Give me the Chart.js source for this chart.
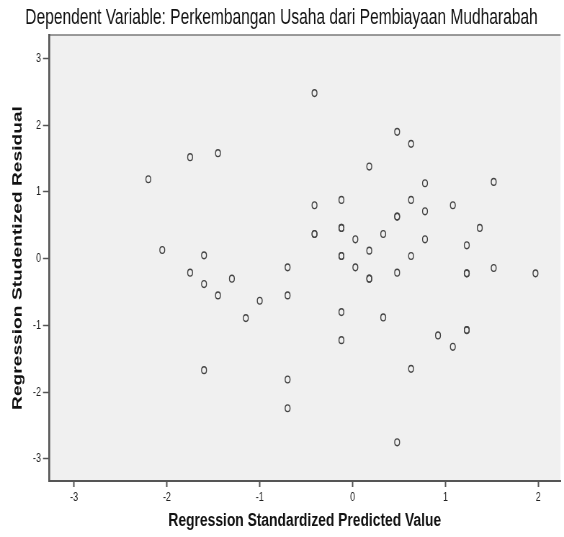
<!DOCTYPE html>
<html>
<head>
<meta charset="utf-8">
<script src="https://cdn.jsdelivr.net/npm/chart.js@4.4.1/dist/chart.umd.min.js"></script>
<style>
  html, body { margin: 0; padding: 0; background: #fff; overflow: hidden; }
  /* the reference image is squashed sideways, so draw wide and squeeze */
  #wrap { width: 783px; height: 537px; transform: scaleX(0.7203); transform-origin: 0 0; }
</style>
</head>
<body>
<div id="wrap"><canvas id="plot" width="783" height="537"></canvas></div>
<script>
// Regression Standardized Predicted Value (x) / Studentized Residual (y)
const predicted = [
  -2.20, -2.05, -1.75, -1.45, -1.60, -1.75, -1.60, -1.30, -1.45, -1.00,
  -1.15, -0.70, -0.70, -1.60, -0.70, -0.70, -0.41, -0.41, -0.41, -0.41,
  -0.12, -0.12, -0.12, -0.12, -0.12, 0.03, 0.03, 0.18, 0.18, 0.18,
  0.33, 0.18, 0.48, 0.63, 0.63, 0.48, 0.48, 0.63, 0.48, -0.12,
  -0.12, 0.33, 0.63, 0.48, 0.78, 0.78, 0.78, 1.52, 1.08, 1.37,
  1.23, 1.23, 1.23, 1.52, 1.97, 0.92, 1.08, 1.23, 1.23
];
const residual = [
  1.19, 0.13, 1.52, 1.58, 0.05, -0.21, -0.38, -0.30, -0.55, -0.63,
  -0.89, -0.13, -0.55, -1.67, -1.81, -2.24, 2.48, 0.80, 0.37, 0.37,
  0.88, 0.46, 0.46, 0.04, 0.04, 0.29, -0.13, 0.12, -0.30, -0.30,
  0.37, 1.38, 1.90, 1.72, 0.88, 0.63, 0.63, 0.04, -0.21, -0.80,
  -1.22, -0.88, -1.65, -2.75, 1.13, 0.71, 0.29, 1.15, 0.80, 0.46,
  0.20, -0.22, -0.22, -0.14, -0.22, -1.15, -1.32, -1.07, -1.07
];
const xTicks = [-3, -2, -1, 0, 1, 2];
const yTicks = [-3, -2, -1, 0, 1, 2, 3];

const FONT = "'Liberation Sans', Arial, sans-serif";

const points = predicted.map((x, i) => ({ x: x, y: residual[i] }));

// grey plot area with the top frame line
const plotBackground = {
  id: 'plotBackground',
  beforeDraw(chart) {
    const { ctx, chartArea: a } = chart;
    ctx.save();
    ctx.fillStyle = '#f0f0f0';
    ctx.fillRect(a.left, a.top, a.right - a.left, a.bottom - a.top);
    ctx.strokeStyle = '#7a7a7a';
    ctx.lineWidth = 1.5;
    ctx.beginPath();
    ctx.moveTo(a.left, a.top);
    ctx.lineTo(a.right, a.top);
    ctx.stroke();
    ctx.restore();
  }
};

new Chart(document.getElementById('plot'), {
  type: 'scatter',
  data: {
    datasets: [{
      data: points,
      pointStyle: 'circle',
      pointRadius: 3.4,
      pointHoverRadius: 3.4,
      borderWidth: 1.4,
      borderColor: '#444',
      backgroundColor: 'rgba(0,0,0,0)'
    }]
  },
  options: {
    responsive: false,
    animation: false,
    events: [],
    layout: { padding: { right: 1.4 } },
    plugins: {
      legend: { display: false },
      tooltip: { enabled: false },
      title: {
        display: true,
        text: 'Dependent Variable: Perkembangan Usaha dari Pembiayaan Mudharabah',
        color: '#111',
        font: { family: FONT, size: 21.6, weight: 'normal' },
        padding: { top: 5, bottom: 4.1 }
      }
    },
    scales: {
      x: {
        type: 'linear',
        min: -3.27,
        max: 2.24,
        afterBuildTicks: s => { s.ticks = xTicks.map(v => ({ value: v })); },
        afterFit: s => { s.height = 56; },
        grid: { drawOnChartArea: false, drawTicks: true, tickLength: 6, tickWidth: 2, tickColor: '#555' },
        border: { display: true, color: '#555', width: 2 },
        ticks: { color: '#222', padding: 3, maxRotation: 0, font: { family: FONT, size: 12.5 } },
        title: {
          display: true,
          text: 'Regression Standardized Predicted Value',
          color: '#111',
          font: { family: FONT, size: 19.2, weight: 'bold' },
          padding: { top: 0, bottom: 4.5 }
        }
      },
      y: {
        type: 'linear',
        min: -3.33,
        max: 3.35,
        afterBuildTicks: s => { s.ticks = yTicks.map(v => ({ value: v })); },
        afterFit: s => { s.width = 68; },
        grid: { drawOnChartArea: false, drawTicks: true, tickLength: 8.3, tickWidth: 1.5, tickColor: '#555' },
        border: { display: true, color: '#555', width: 2.6 },
        ticks: { color: '#222', padding: 2.8, font: { family: FONT, size: 12.5 } },
        title: {
          display: true,
          text: 'Regression Studentized Residual',
          color: '#111',
          font: { family: FONT, size: 19.2, weight: 'bold' },
          padding: { top: 13.5, bottom: 0 }
        }
      }
    }
  },
  plugins: [plotBackground]
});
</script>
</body>
</html>
